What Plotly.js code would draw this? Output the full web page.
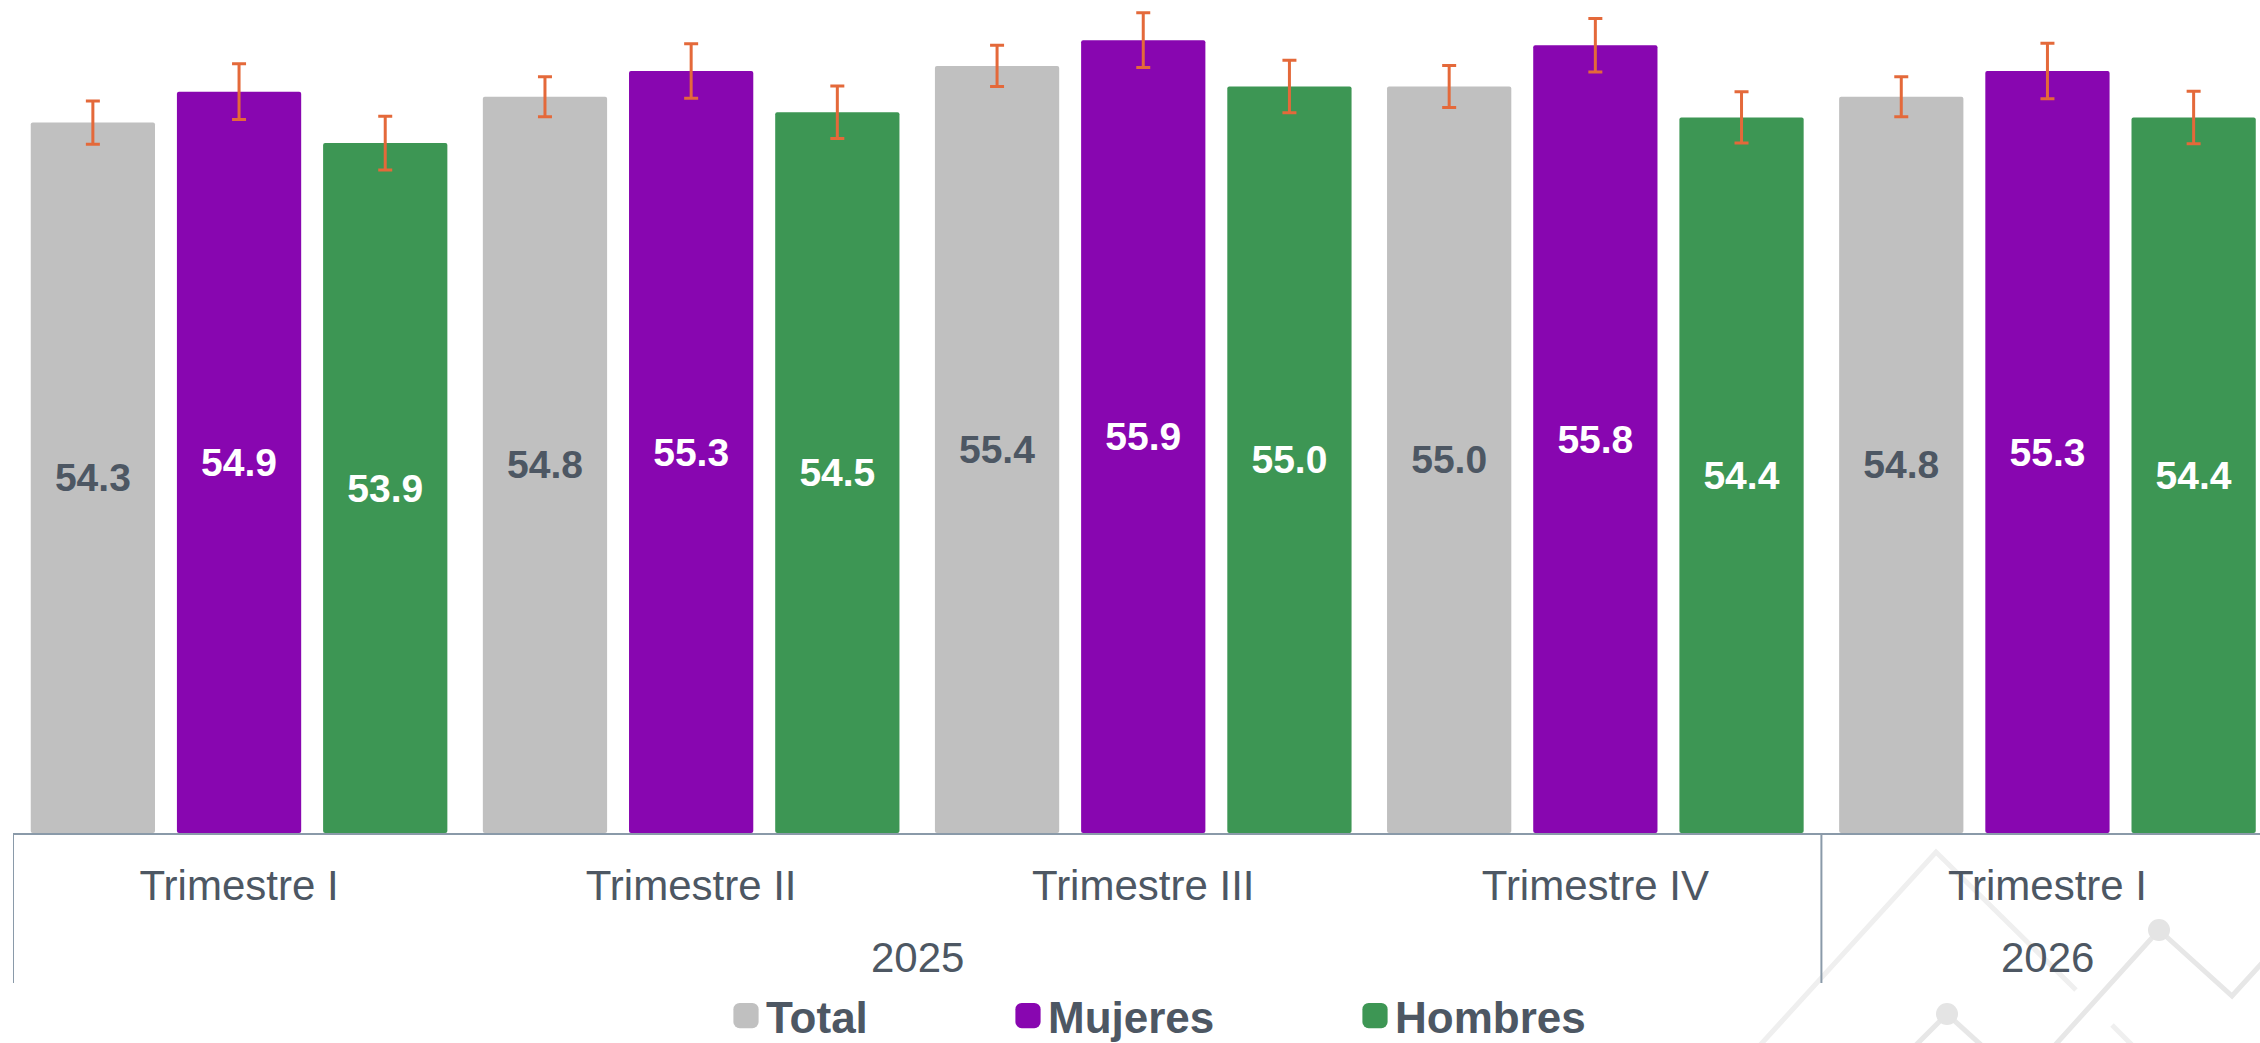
<!DOCTYPE html>
<html><head><meta charset="utf-8">
<script src="https://cdn.plot.ly/plotly-3.0.1.min.js"></script>
<style>html,body{margin:0;padding:0;background:#fff;overflow:hidden;} #chart{width:2260px;height:1043px;}</style>
</head><body><div id="chart"></div>
<script>
// ---- data ----
const years = ["2025", "2025", "2025", "2025", "2026"];
const quarters = ["Trimestre I", "Trimestre II", "Trimestre III", "Trimestre IV", "Trimestre I"];
const seriesNames = ["Total", "Mujeres", "Hombres"];
const total = [54.3, 54.8, 55.4, 55.0, 54.8];
const mujeres = [54.9, 55.3, 55.9, 55.8, 55.3];
const hombres = [53.9, 54.5, 55.0, 54.4, 54.4];
const totalErr = [0.42, 0.39, 0.40, 0.41, 0.39];
const mujeresErr = [0.54, 0.53, 0.53, 0.52, 0.54];
const hombresErr = [0.52, 0.51, 0.51, 0.50, 0.51];

// ---- style ----
const FONT = "Liberation Sans, Arial, sans-serif";
const TEXT = "#4d5763";
const AXIS = "#8a9aa9";
const colors = ["#c0c0c0", "#8806b0", "#3d9654"];
const labelColors = [TEXT, "#ffffff", "#ffffff"];
const ERR = "#e4693a";

const W = 2260, H = 1043, ML = 13, MB = 210;
const PW = W - ML, PH = H - MB;
const Y_MIN = 40.5, Y_MAX = 56.68;   // value axis range (bars start at the axis floor)
const CAT_PX = 452.1;                // width of one category on screen

const px = x => (x - ML) / PW;
const py = y => (PH - y) / PH;

// unique category keys (quarter names repeat across years)
const xKeys = years.map((y, i) => y + " | " + quarters[i]);

const values = [total, mujeres, hombres];
const errs = [totalErr, mujeresErr, hombresErr];
const legendIds = ["legend", "legend2", "legend3"];

const traces = seriesNames.map((name, i) => ({
  type: "bar",
  name: name,
  x: xKeys,
  base: Y_MIN,
  y: values[i].map(v => v - Y_MIN),
  customdata: values[i],
  marker: {color: colors[i], line: {width: 0}},
  error_y: {type: "data", array: errs[i], visible: true, color: ERR, thickness: 3, width: 7},
  texttemplate: "%{customdata:.1f}",
  textposition: "inside",
  insidetextanchor: "middle",
  textangle: 0,
  constraintext: "none",
  textfont: {family: FONT, size: 39, weight: "bold", color: labelColors[i]},
  hoverinfo: "skip",
  legend: legendIds[i]
}));

// year groups -> second-level labels and dividers
const groups = [];
years.forEach((y, i) => {
  if (!groups.length || groups[groups.length - 1].year !== y) groups.push({year: y, first: i, last: i});
  else groups[groups.length - 1].last = i;
});
const annotations = groups.map(g => ({
  xref: "x", yref: "paper", x: (g.first + g.last) / 2, y: py(957),
  xanchor: "center", yanchor: "middle", showarrow: false, text: g.year,
  font: {family: FONT, size: 42, color: TEXT}
}));

const shapes = [];
groups.forEach((g, k) => {
  const bounds = [g.first - 0.5];
  if (k === groups.length - 1) bounds.push(g.last + 0.5);
  bounds.forEach(b => shapes.push({type: "line", xref: "x", yref: "paper",
    x0: b, x1: b, y0: 0, y1: py(983), line: {color: AXIS, width: 2}, layer: "above"}));
});

// decorative background motif (bottom-right), in pixel coordinates
const decoLines = [
  {pts: [[1752, 1054], [1936, 852], [2076, 990]], color: "#efefef"},
  {pts: [[1908, 1053], [1947, 1014], [1990, 1053]], color: "#e7e7e7"},
  {pts: [[2047, 1054], [2159, 930], [2232, 996], [2292, 930]], color: "#e7e7e7"},
  {pts: [[2112, 1025], [2140, 1053]], color: "#efefef"}
];
const decoDots = [[2159, 930], [1947, 1014]];
decoLines.forEach(l => {
  const d = l.pts.map((p, k) => (k ? "L" : "M") + px(p[0]).toFixed(5) + "," + py(p[1]).toFixed(5)).join(" ");
  shapes.push({type: "path", xref: "paper", yref: "paper", path: d, layer: "below",
    line: {color: l.color, width: 5}});
});
decoDots.forEach(p => {
  const r = 11;
  shapes.push({type: "circle", xref: "paper", yref: "paper", layer: "below",
    x0: px(p[0] - r), x1: px(p[0] + r), y0: py(p[1] + r), y1: py(p[1] - r),
    fillcolor: "#e4e4e4", line: {width: 0}});
});

const legendBase = {orientation: "h", xanchor: "left", yanchor: "middle", y: py(1016),
  bgcolor: "rgba(0,0,0,0)", borderwidth: 0, itemwidth: 30,
  font: {family: FONT, size: 44, weight: "bold", color: TEXT}};

const layout = {
  width: W, height: H,
  margin: {l: ML, r: 0, t: 0, b: MB, autoexpand: false},
  paper_bgcolor: "#ffffff", plot_bgcolor: "rgba(0,0,0,0)",
  barmode: "group", bargap: 0.03, bargroupgap: 0.15,
  barcornerradius: 2,
  font: {family: FONT, color: TEXT},
  showlegend: true,
  legend: Object.assign({}, legendBase, {x: px(726)}),
  legend2: Object.assign({}, legendBase, {x: px(1008)}),
  legend3: Object.assign({}, legendBase, {x: px(1355)}),
  xaxis: {
    type: "category",
    tickmode: "array", tickvals: xKeys, ticktext: quarters,
    range: [-0.5, -0.5 + PW / CAT_PX],
    showline: true, linecolor: AXIS, linewidth: 2,
    ticks: "", showgrid: false, zeroline: false,
    ticklabelstandoff: 15,
    tickfont: {family: FONT, size: 42, color: TEXT},
    automargin: false, fixedrange: true
  },
  yaxis: {
    range: [Y_MIN, Y_MAX],
    visible: false, showgrid: false, zeroline: false, fixedrange: true
  },
  annotations: annotations,
  shapes: shapes
};

Plotly.newPlot("chart", traces, layout, {displayModeBar: false, staticPlot: true}).then(gd => {
  gd.querySelectorAll("g.legendpoints path").forEach(p => {
    const t = p.getAttribute("transform") || "";
    p.setAttribute("transform", t + " scale(2.1)");
  });
});
</script>
</body></html>
